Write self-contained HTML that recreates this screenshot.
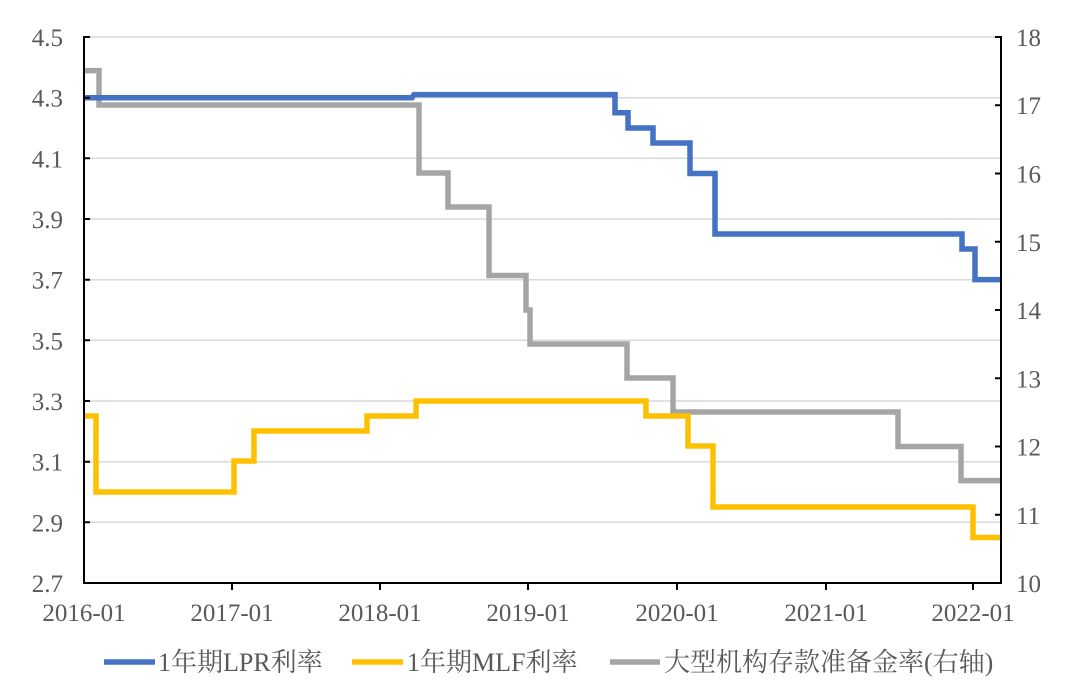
<!DOCTYPE html>
<html><head><meta charset="utf-8"><style>
body{margin:0;background:#fff}
svg text{font-family:"Liberation Serif","Noto Serif CJK SC",serif;fill:#595959}
</style></head><body>
<svg width="1080" height="694" xmlns="http://www.w3.org/2000/svg">
<g stroke="#d9d9d9" stroke-width="1.5">
<line x1="84" x2="1001" y1="37" y2="37"/><line x1="84" x2="1001" y1="97.7" y2="97.7"/><line x1="84" x2="1001" y1="158.3" y2="158.3"/><line x1="84" x2="1001" y1="219" y2="219"/><line x1="84" x2="1001" y1="279.7" y2="279.7"/><line x1="84" x2="1001" y1="340.3" y2="340.3"/><line x1="84" x2="1001" y1="401" y2="401"/><line x1="84" x2="1001" y1="461.7" y2="461.7"/><line x1="84" x2="1001" y1="522.3" y2="522.3"/>
</g>
<g fill="none" stroke-width="5.5" stroke-linejoin="miter">
<path stroke="#a5a5a5" d="M84 70.6H99V105H419V173H448V207H489V275.5H526V310H530V344H627V378H673V412H898V446.5H961V480.6H1001"/>
<path stroke="#4472c4" d="M84 97.7H412L414 94.6H615V112.8H628V128H653V143H690V173.5H715V234H962V249H975V279.6H1001"/>
<path stroke="#ffc000" d="M84 416H96V492H234V461H254V431H367V416H416V401H646V416H688V446H713V507H973V537.5H1001"/>
</g>
<g stroke="#000" stroke-width="2">
<line x1="84" y1="36" x2="84" y2="584"/><line x1="1001" y1="36" x2="1001" y2="584"/><line x1="83" y1="583" x2="1002" y2="583"/>
<path d="M84 37h6M84 97.7h6M84 158.3h6M84 219h6M84 279.7h6M84 340.3h6M84 401h6M84 461.7h6M84 522.3h6"/>
<path d="M1001 37h-6M1001 105.3h-6M1001 173.5h-6M1001 241.8h-6M1001 310h-6M1001 378.3h-6M1001 446.5h-6M1001 514.8h-6"/>
<path d="M232 583v7M380 583v7M528 583v7M677 583v7M826 583v7M973 583v7"/>
</g>
<g font-size="25" text-anchor="end">
<text x="63" y="46">4.5</text><text x="63" y="106.7">4.3</text><text x="63" y="167.3">4.1</text><text x="63" y="228">3.9</text><text x="63" y="288.7">3.7</text><text x="63" y="349.3">3.5</text><text x="63" y="410">3.3</text><text x="63" y="470.7">3.1</text><text x="63" y="531.3">2.9</text><text x="63" y="592">2.7</text>
</g>
<g font-size="25">
<text x="1016" y="46">18</text><text x="1016" y="114">17</text><text x="1016" y="182.5">16</text><text x="1016" y="250.8">15</text><text x="1016" y="319">14</text><text x="1016" y="387.3">13</text><text x="1016" y="455.5">12</text><text x="1016" y="523.8">11</text><text x="1016" y="592">10</text>
</g>
<g font-size="25" text-anchor="middle">
<text x="84" y="621">2016-01</text><text x="232" y="621">2017-01</text><text x="380" y="621">2018-01</text><text x="528" y="621">2019-01</text><text x="677" y="621">2020-01</text><text x="826" y="621">2021-01</text><text x="973" y="621">2022-01</text>
</g>
<g stroke-width="5.5">
<line x1="104" x2="155" y1="662" y2="662" stroke="#4472c4"/>
<line x1="352" x2="403" y1="662" y2="662" stroke="#ffc000"/>
<line x1="610" x2="660" y1="662" y2="662" stroke="#a5a5a5"/>
</g>
<g font-size="26">
<text x="158" y="671">1年期LPR利率</text><text x="407" y="671">1年期MLF利率</text><text x="664" y="671">大型机构存款准备金率(右轴)</text>
</g>
</svg>
</body></html>
